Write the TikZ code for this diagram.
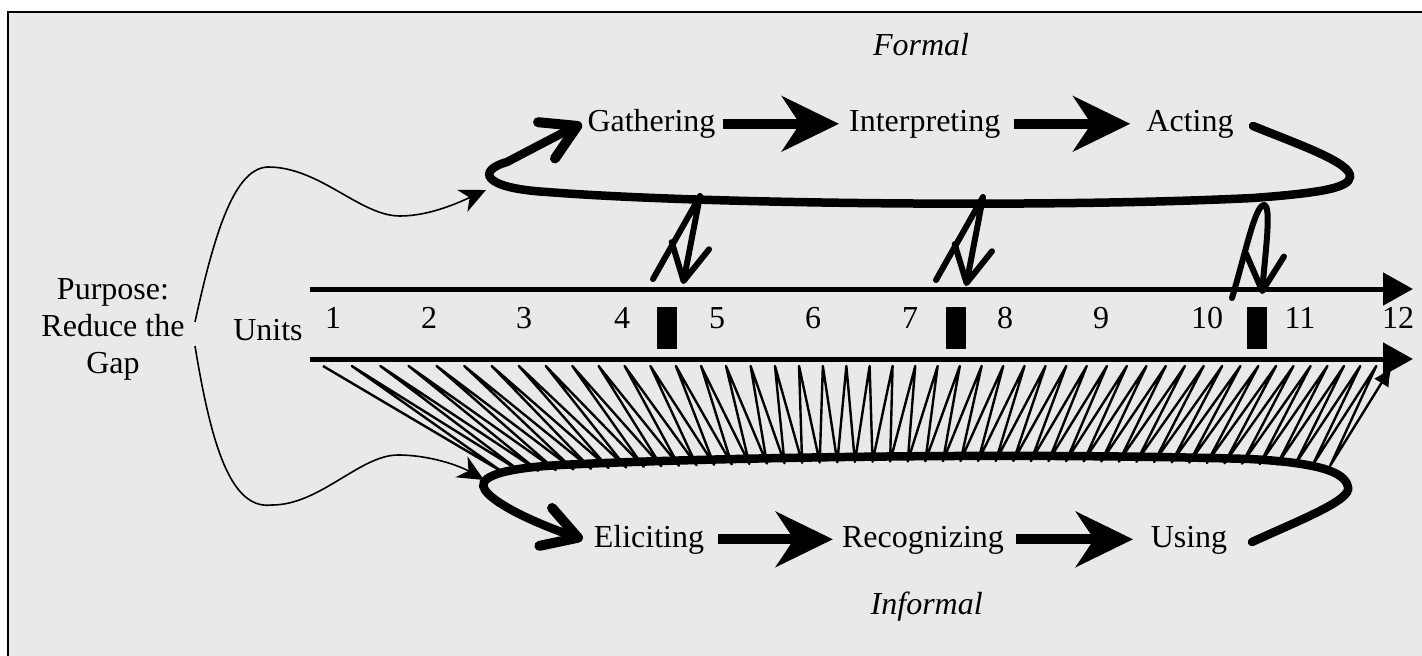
\documentclass[tikz,border=0pt]{standalone}
\usepackage{fontspec}
\setmainfont{Liberation Serif}
\usetikzlibrary{arrows.meta}
\definecolor{panel}{HTML}{E9E9E9}
\begin{document}
\begin{tikzpicture}[x=1pt,y=-1pt,
  lbl/.style={inner sep=0pt,font=\fontsize{32}{37}\selectfont,text height=22.4pt,text depth=7pt,anchor=base},
  modelabel/.style={lbl,font=\fontsize{32}{37}\selectfont\itshape},
  flow/.style={line width=10pt,-{Stealth[length=57pt,width=55pt,inset=18pt]}},
  timeline/.style={line width=5pt,-{Triangle[length=30pt,width=32pt]}},
  cyclepath/.style={line width=8.5pt,line cap=round,-{Straight Barb[length=34pt,width=40pt,line width=10pt,round]}},
  feedback/.style={line width=6pt,line cap=round,line join=round,-{Straight Barb[length=36pt,width=38pt,round]}},
  reach/.style={line width=1.6pt,-{Stealth[length=26pt,width=24pt,inset=8pt]}},
  coil/.style={line width=2.4pt,line join=round,-{Latex[length=20pt,width=17pt]}},
  slot/.style={fill=black,minimum width=20pt,minimum height=42pt,inner sep=0pt}]

\useasboundingbox (0,0) rectangle (1422,656);
\clip (0,0) rectangle (1422,656);
% panel
\draw[fill=panel,line width=1.5pt] (8,12) rectangle (1440,680);

% purpose and unit labels
\node[inner sep=0pt,align=center,font=\fontsize{32}{37}\selectfont] (purpose) at (113,329) {Purpose:\\Reduce the\\Gap};
\node[lbl] (units) at (268,340) {Units};

% formal cycle labels
\node[modelabel] (formal) at (921,55) {Formal};
\node[lbl] (gath) at (651.5,131.5) {Gathering};
\node[lbl] (interp) at (924.7,131.5) {Interpreting};
\node[lbl] (act) at (1190,131.5) {Acting};

% informal cycle labels
\node[lbl] (elic) at (649,547) {Eliciting};
\node[lbl] (recog) at (923,547) {Recognizing};
\node[lbl] (using) at (1189,547) {Using};
\node[modelabel] (informal) at (926.7,614) {Informal};

% process arrows
\draw[flow,shorten <=7pt,shorten >=10pt] (gath.east) -- (interp.west);
\draw[flow,shorten <=14pt,shorten >=16pt] (interp.east) -- (act.west);
\draw[flow,shorten <=14pt,shorten >=9pt] (elic.east) -- (recog.west);
\draw[flow,shorten <=12pt,shorten >=17.5pt] (recog.east) -- (using.west);

% unit timeline
\coordinate (ta) at (310,289);
\coordinate (tb) at (1413,289);
\coordinate (ba) at (310,359);
\coordinate (bb) at (1413,359);
\draw[timeline] (ta) -- (tb);
\draw[timeline] (ba) -- (bb);
\foreach \n/\x in {1/333,2/429,3/524,4/622,5/717,6/813,7/910,8/1005,9/1101,10/1207,11/1300,12/1398}
  \node[lbl] (u\n) at (\x,328) {\n};
\node[slot] (s1) at (667,327.5) {};
\node[slot] (s2) at (955.5,327.5) {};
\node[slot] (s3) at (1256.5,327.5) {};

% coil of unit-by-unit informal checks
\draw[coil] (323,366)
  \foreach \i [evaluate=\i as \xb using 503+827*((\i-1)/47),
               evaluate=\i as \xt using 323+1069*(1.3*(\i/48)-0.3*(\i/48)*(\i/48))] in {1,...,48}
  { -- (\xb,{461+0.46*((\xb-1000)/100)*((\xb-1000)/100)}) -- (\xt,366) };

% formal cycle
\draw[cyclepath] (1253,126) .. controls (1300,145) and (1352,163) .. (1350,177)
  .. controls (1349,188) and (1320,193) .. (1253,198)
  .. controls (1050,208) and (700,204) .. (547,192)
  .. controls (480,188) and (478,170) .. (507,162)
  .. controls (530,150) and (560,134) .. ([xshift=-5.5pt]gath.west);

% informal cycle
\draw[cyclepath] (1252,542) .. controls (1300,520) and (1352,500) .. (1348,487)
  .. controls (1345,472) and (1320,463) .. (1250,459)
  .. controls (1000,452) and (700,458) .. (560,465)
  .. controls (490,469) and (478,480) .. (485,490)
  .. controls (495,505) and (540,525) .. ([xshift=-11pt]elic.west);

% feedback from the formal cycle into the units
\draw[feedback] (653,279) -- (700,196) -- (683,284);
\draw[feedback] (936,280) -- (983,197) -- (966,286);
\draw[feedback] (1232,298) .. controls (1245,255) and (1255,205) .. (1264,205)
  .. controls (1272,205) and (1265,255) .. (1262,294);

% purpose feeds both cycles
\coordinate (pu) at (195,322);
\coordinate (pl) at (195,346);
\draw[reach] (pu) .. controls (215,230) and (235,168) .. (268,167)
  .. controls (320,167) and (360,216) .. (400,216)
  .. controls (430,216) and (460,202) .. (486,190);
\draw[reach] (pl) .. controls (212,450) and (232,510) .. (272,505)
  .. controls (320,505) and (360,455) .. (398,455)
  .. controls (430,455) and (460,466) .. (484,480);
\end{tikzpicture}
\end{document}
